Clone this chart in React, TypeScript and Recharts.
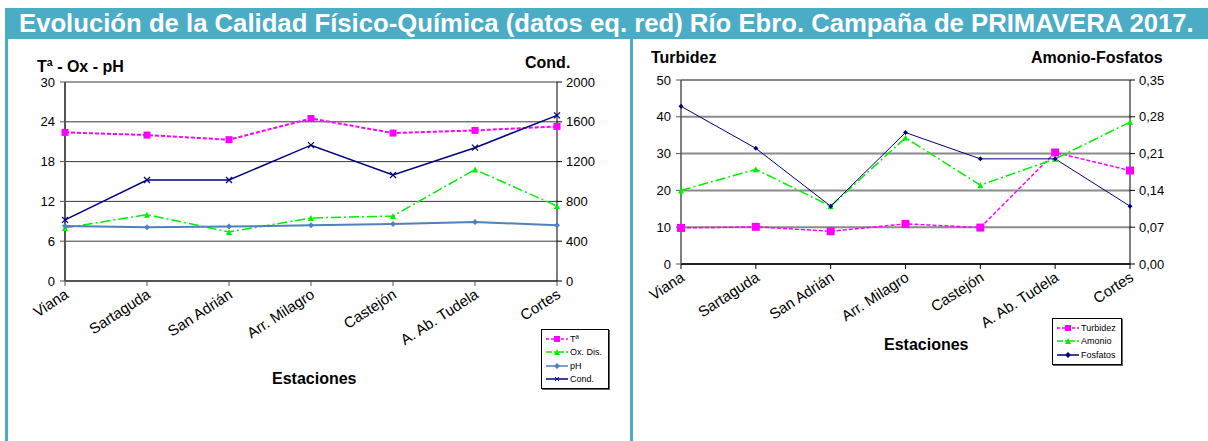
import React from "react";
import { LineChart, Line, XAxis, YAxis, CartesianGrid } from "recharts";

const stations = ["Viana", "Sartaguda", "San Adrián", "Arr. Milagro", "Castejón", "A. Ab. Tudela", "Cortes"];
const temp = [22.4, 22.0, 21.3, 24.5, 22.3, 22.7, 23.3];
const oxDis = [8.0, 10.0, 7.4, 9.5, 9.8, 16.8, 11.3];
const ph = [8.3, 8.1, 8.2, 8.4, 8.6, 8.9, 8.4];
const cond = [615, 1015, 1015, 1365, 1065, 1340, 1665];
const turb = [9.8, 10.1, 8.9, 10.9, 9.9, 30.3, 25.4];
const amonio = [0.14, 0.18, 0.11, 0.24, 0.15, 0.2, 0.27];
const fosfatos = [0.3, 0.22, 0.11, 0.25, 0.2, 0.2, 0.11];

const leftTicks = [0, 6, 12, 18, 24, 30];
const condTicks = [0, 400, 800, 1200, 1600, 2000];
const turbTicks = [0, 10, 20, 30, 40, 50];
const nutTicks = [0, 0.07, 0.14, 0.21, 0.28, 0.35];

const dataA = stations.map((name, i) => ({ name, temp: temp[i], ox: oxDis[i], ph: ph[i], cond: cond[i] }));
const dataB = stations.map((name, i) => ({ name, turb: turb[i], amonio: amonio[i], fosfatos: fosfatos[i] }));

const FONT = "'Liberation Sans', Arial, sans-serif";
const TEAL = "#4BACC6";
const MAG = "#FF00FF";
const GREEN = "#00F000";
const STEEL = "#4F81BD";
const NAVY = "#000080";

const Square = (size: number) => (p: any) =>
  p.cx == null ? <g /> : <rect x={p.cx - size / 2} y={p.cy - size / 2} width={size} height={size} fill={MAG} />;
const Tri = (size: number) => (p: any) =>
  p.cx == null ? <g /> : (
    <polygon points={`${p.cx},${p.cy - size / 2} ${p.cx - size / 2},${p.cy + size / 2} ${p.cx + size / 2},${p.cy + size / 2}`} fill={GREEN} />
  );
const Diamond = (size: number, color: string) => (p: any) =>
  p.cx == null ? <g /> : (
    <polygon points={`${p.cx},${p.cy - size / 2} ${p.cx + size / 2},${p.cy} ${p.cx},${p.cy + size / 2} ${p.cx - size / 2},${p.cy}`} fill={color} />
  );
const Cross = (p: any) =>
  p.cx == null ? <g /> : (
    <g stroke={NAVY} strokeWidth={1.2}>
      <line x1={p.cx - 3} y1={p.cy - 3} x2={p.cx + 3} y2={p.cy + 3} />
      <line x1={p.cx - 3} y1={p.cy + 3} x2={p.cx + 3} y2={p.cy - 3} />
    </g>
  );

const XTick = (p: any) => (
  <g transform={`translate(${p.x},${p.y})`}>
    <text x={0} y={0} dy={10} dx={-1} textAnchor="end" transform="rotate(-33)" fontSize={15} fill="#000" fontFamily={FONT}>
      {p.payload.value}
    </text>
  </g>
);

const comma = (v: number) => v.toFixed(2).replace(".", ",");

const LegendBox = ({ items, style }: { items: { label: string; color: string; dash?: string; marker: string }[]; style: React.CSSProperties }) => (
  <div style={{ position: "absolute", border: "1px solid #000", boxShadow: "1px 1px 0 #666", background: "#fff", padding: "2px 4px", ...style }}>
    {items.map((it) => (
      <div key={it.label} style={{ display: "flex", alignItems: "center", height: 13.5, fontSize: 9, fontFamily: FONT, color: "#000" }}>
        <svg width={22} height={10} style={{ marginRight: 2 }}>
          <line x1={0} y1={5} x2={22} y2={5} stroke={it.color} strokeWidth={1.5} strokeDasharray={it.dash} />
          {it.marker === "sq" && <rect x={8} y={2} width={6} height={6} fill={it.color} />}
          {it.marker === "tri" && <polygon points="11,2 8,8 14,8" fill={it.color} />}
          {it.marker === "dia" && <polygon points="11,2 14,5 11,8 8,5" fill={it.color} />}
          {it.marker === "x" && (
            <g stroke={it.color} strokeWidth={1}>
              <line x1={9} y1={3} x2={13} y2={7} />
              <line x1={9} y1={7} x2={13} y2={3} />
            </g>
          )}
        </svg>
        <span>{it.label}</span>
      </div>
    ))}
  </div>
);

const bold: React.CSSProperties = { position: "absolute", fontFamily: FONT, fontWeight: "bold", color: "#000", whiteSpace: "nowrap" };

export default function App() {
  return (
    <div style={{ position: "absolute", left: 0, top: 0, width: 1208, height: 441, background: "#fff", overflow: "hidden", fontFamily: FONT }}>
      <div style={{ position: "absolute", left: 5, top: 8, width: 1203, height: 31, background: TEAL }} />
      <div style={{ ...bold, left: 19, top: 8, fontSize: 25.7, color: "#fff", lineHeight: "30px" }}>
        Evolución de la Calidad Físico-Química (datos eq. red) Río Ebro. Campaña de PRIMAVERA 2017.
      </div>
      <div style={{ position: "absolute", left: 5, top: 39, width: 3, height: 402, background: TEAL }} />
      <div style={{ position: "absolute", left: 630, top: 39, width: 3, height: 402, background: TEAL }} />

      {/* Left chart */}
      <div style={{ position: "absolute", left: 8, top: 40 }}>
        <LineChart width={620} height={400} data={dataA} margin={{ top: 42, right: 0, bottom: 99, left: 0 }}>
          <CartesianGrid vertical={false} stroke="#3a3a3a" strokeWidth={1} yAxisId="left" />
          <XAxis dataKey="name" scale="point" padding={{ left: 0, right: 0 }} height={60} interval={0}
            tick={<XTick />} tickSize={5} axisLine={{ stroke: "#555", strokeWidth: 2 }} tickLine={{ stroke: "#555" }} />
          <YAxis yAxisId="left" domain={[0, 30]} ticks={leftTicks} width={57} tickSize={5} tickMargin={5}
            tick={{ fontSize: 13, fill: "#000", fontFamily: FONT }} axisLine={{ stroke: "#555", strokeWidth: 2 }} tickLine={{ stroke: "#555" }} />
          <YAxis yAxisId="right" orientation="right" domain={[0, 2000]} ticks={condTicks} width={71} tickSize={5} tickMargin={4}
            tick={{ fontSize: 13, fill: "#000", fontFamily: FONT }} axisLine={{ stroke: "#000" }} tickLine={{ stroke: "#000" }} />
          <Line yAxisId="left" dataKey="temp" stroke={MAG} strokeWidth={2} strokeDasharray="4 2" dot={Square(7)} isAnimationActive={false} />
          <Line yAxisId="left" dataKey="ox" stroke={GREEN} strokeWidth={1.5} strokeDasharray="10 3 2 3" dot={Tri(6)} isAnimationActive={false} />
          <Line yAxisId="left" dataKey="ph" stroke={STEEL} strokeWidth={2} dot={Diamond(6, STEEL)} isAnimationActive={false} />
          <Line yAxisId="right" dataKey="cond" stroke={NAVY} strokeWidth={1.5} dot={Cross} isAnimationActive={false} />
        </LineChart>
      </div>
      <div style={{ ...bold, left: 37, top: 58, fontSize: 16 }}>Tª - Ox - pH</div>
      <div style={{ ...bold, left: 525, top: 54, fontSize: 16 }}>Cond.</div>
      <div style={{ ...bold, left: 272, top: 370, fontSize: 16 }}>Estaciones</div>
      <LegendBox
        style={{ left: 541, top: 329, width: 58 }}
        items={[
          { label: "Tª", color: MAG, dash: "3 2", marker: "sq" },
          { label: "Ox. Dis.", color: GREEN, dash: "6 2 2 2", marker: "tri" },
          { label: "pH", color: STEEL, marker: "dia" },
          { label: "Cond.", color: NAVY, marker: "x" },
        ]}
      />

      {/* Right chart */}
      <div style={{ position: "absolute", left: 633, top: 40 }}>
        <LineChart width={575} height={400} data={dataB} margin={{ top: 40, right: 0, bottom: 116, left: 0 }}>
          <CartesianGrid vertical={false} stroke="#8a8a8a" strokeWidth={2} yAxisId="left" />
          <XAxis dataKey="name" scale="point" padding={{ left: 0, right: 0 }} height={60} interval={0}
            tick={<XTick />} tickSize={5} axisLine={{ stroke: "#000", strokeWidth: 1.5 }} tickLine={{ stroke: "#000" }} />
          <YAxis yAxisId="left" domain={[0, 50]} ticks={turbTicks} width={48} tickSize={5} tickMargin={5}
            tick={{ fontSize: 13, fill: "#000", fontFamily: FONT }} axisLine={{ stroke: "#555", strokeWidth: 1.5 }} tickLine={{ stroke: "#555" }} />
          <YAxis yAxisId="right" orientation="right" domain={[0, 0.35]} ticks={nutTicks} tickFormatter={comma} width={78} tickSize={5} tickMargin={4}
            tick={{ fontSize: 13, fill: "#000", fontFamily: FONT }} axisLine={{ stroke: "#000" }} tickLine={{ stroke: "#000" }} />
          <Line yAxisId="left" dataKey="turb" stroke={MAG} strokeWidth={1.5} strokeDasharray="4 2" dot={Square(8)} isAnimationActive={false} />
          <Line yAxisId="right" dataKey="amonio" stroke={GREEN} strokeWidth={1.5} strokeDasharray="10 3 2 3" dot={Tri(6)} isAnimationActive={false} />
          <Line yAxisId="right" dataKey="fosfatos" stroke={NAVY} strokeWidth={1} dot={Diamond(5, NAVY)} isAnimationActive={false} />
        </LineChart>
      </div>
      <div style={{ ...bold, left: 651, top: 49, fontSize: 16 }}>Turbidez</div>
      <div style={{ ...bold, left: 1031, top: 49, fontSize: 16 }}>Amonio-Fosfatos</div>
      <div style={{ ...bold, left: 884, top: 336, fontSize: 16 }}>Estaciones</div>
      <LegendBox
        style={{ left: 1052, top: 318, width: 60 }}
        items={[
          { label: "Turbidez", color: MAG, dash: "3 2", marker: "sq" },
          { label: "Amonio", color: GREEN, dash: "6 2 2 2", marker: "tri" },
          { label: "Fosfatos", color: NAVY, marker: "dia" },
        ]}
      />
    </div>
  );
}
